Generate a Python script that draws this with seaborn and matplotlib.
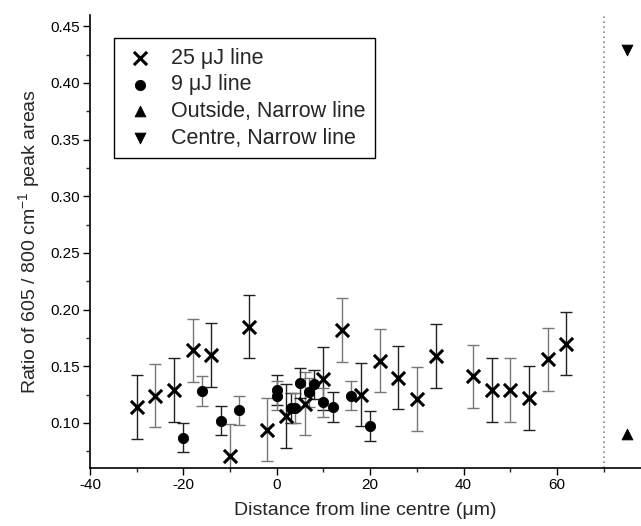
import matplotlib
matplotlib.use("Agg")
import matplotlib.pyplot as plt
import seaborn as sns
import pandas as pd
from matplotlib.ticker import MultipleLocator, FormatStrFormatter

# ---- data ----
x25 = [-30, -26, -22, -18, -14, -10, -6, -2, 2, 6, 10, 14, 18, 22, 26, 30, 34, 42, 46, 50, 54, 58, 62]
y25 = [0.114, 0.124, 0.129, 0.164, 0.160, 0.071, 0.185, 0.094, 0.106, 0.117, 0.139, 0.182, 0.125,
       0.155, 0.140, 0.121, 0.159, 0.141, 0.129, 0.129, 0.122, 0.156, 0.170]
e25 = [0.028] * len(x25)

x9 = [-20, -16, -12, -8, 0, 0, 3, 4, 5, 7, 8, 10, 12, 16, 20]
y9 = [0.087, 0.128, 0.102, 0.111, 0.129, 0.124, 0.113, 0.113, 0.135, 0.127, 0.134, 0.118, 0.114, 0.124, 0.097]
e9 = [0.013] * len(x9)

x_out = [75]
y_out = [0.090]
x_cen = [75]
y_cen = [0.429]

labels = ["25 \u03bcJ line", "9 \u03bcJ line", "Outside, Narrow line", "Centre, Narrow line"]

sns.set_style("ticks")
plt.rcParams['font.family'] = ['Liberation Sans', 'DejaVu Sans']
plt.rcParams['axes.unicode_minus'] = False
plt.rcParams['mathtext.fontset'] = 'custom'
plt.rcParams['mathtext.rm'] = 'Liberation Sans'
plt.rcParams['mathtext.it'] = 'Liberation Sans'
plt.rcParams['mathtext.default'] = 'regular'

fig = plt.figure(figsize=(6.41, 5.26), dpi=100)
ax = fig.add_axes([0.1404, 0.110, 0.8596, 0.8615])

ecols25 = ['#222222' if i % 2 == 0 else '#777777' for i in range(len(x25))]
for xi, yi, ei, c in zip(x25, y25, e25, ecols25):
    ax.errorbar(xi, yi, yerr=ei, fmt='none', ecolor=c, elinewidth=1.0, capsize=4, capthick=1.0, zorder=2)
ecols9 = ['#222222' if i % 2 == 0 else '#777777' for i in range(len(x9))]
for xi, yi, ei, c in zip(x9, y9, e9, ecols9):
    ax.errorbar(xi, yi, yerr=ei, fmt='none', ecolor=c, elinewidth=1.0, capsize=4, capthick=1.0, zorder=2)

d25 = pd.DataFrame({"x": x25, "y": y25})
d9 = pd.DataFrame({"x": x9, "y": y9})
dout = pd.DataFrame({"x": x_out, "y": y_out})
dcen = pd.DataFrame({"x": x_cen, "y": y_cen})

sns.scatterplot(data=d25, x="x", y="y", marker="x", s=90, color="black", linewidth=2.2, ax=ax, label=labels[0], zorder=3)
sns.scatterplot(data=d9, x="x", y="y", marker="o", s=55, color="black", edgecolor="black", ax=ax, label=labels[1], zorder=3)
sns.scatterplot(data=dout, x="x", y="y", marker="^", s=60, color="black", edgecolor="black", ax=ax, label=labels[2], zorder=3)
sns.scatterplot(data=dcen, x="x", y="y", marker="v", s=60, color="black", edgecolor="black", ax=ax, label=labels[3], zorder=3)

ax.axvline(70, color="#888888", linestyle=(0, (1, 2)), linewidth=1.2, zorder=1)

ax.set_xlim(-40, 78)
ax.set_ylim(0.06, 0.46)
ax.xaxis.set_major_locator(MultipleLocator(20))
ax.xaxis.set_minor_locator(MultipleLocator(10))
ax.yaxis.set_major_locator(MultipleLocator(0.05))
ax.yaxis.set_minor_locator(MultipleLocator(0.025))
ax.yaxis.set_major_formatter(FormatStrFormatter('%.2f'))
ax.tick_params(which='major', direction='out', length=5, width=1, labelsize=11, colors='black', pad=2)
ax.tick_params(which='minor', direction='out', length=3, width=1)

for s in ['top', 'right']:
    ax.spines[s].set_visible(False)
for s in ['left', 'bottom']:
    ax.spines[s].set_linewidth(1.2)
    ax.spines[s].set_color('black')

ax.set_xlabel("Distance from line centre (\u03bcm)", fontsize=14, labelpad=7)
ax.set_ylabel("Ratio of 605 / 800 cm$^{-1}$ peak areas", fontsize=14, labelpad=6)

leg = ax.legend(loc="upper left", bbox_to_anchor=(0.0436, 0.949), fontsize=15.5, frameon=True, fancybox=False,
                edgecolor="black", framealpha=1, handletextpad=0.7, borderpad=0.45, labelspacing=0.26,
                handlelength=1.5, borderaxespad=0)
leg.get_frame().set_linewidth(1.0)

fig.savefig("out.png", dpi=100)
